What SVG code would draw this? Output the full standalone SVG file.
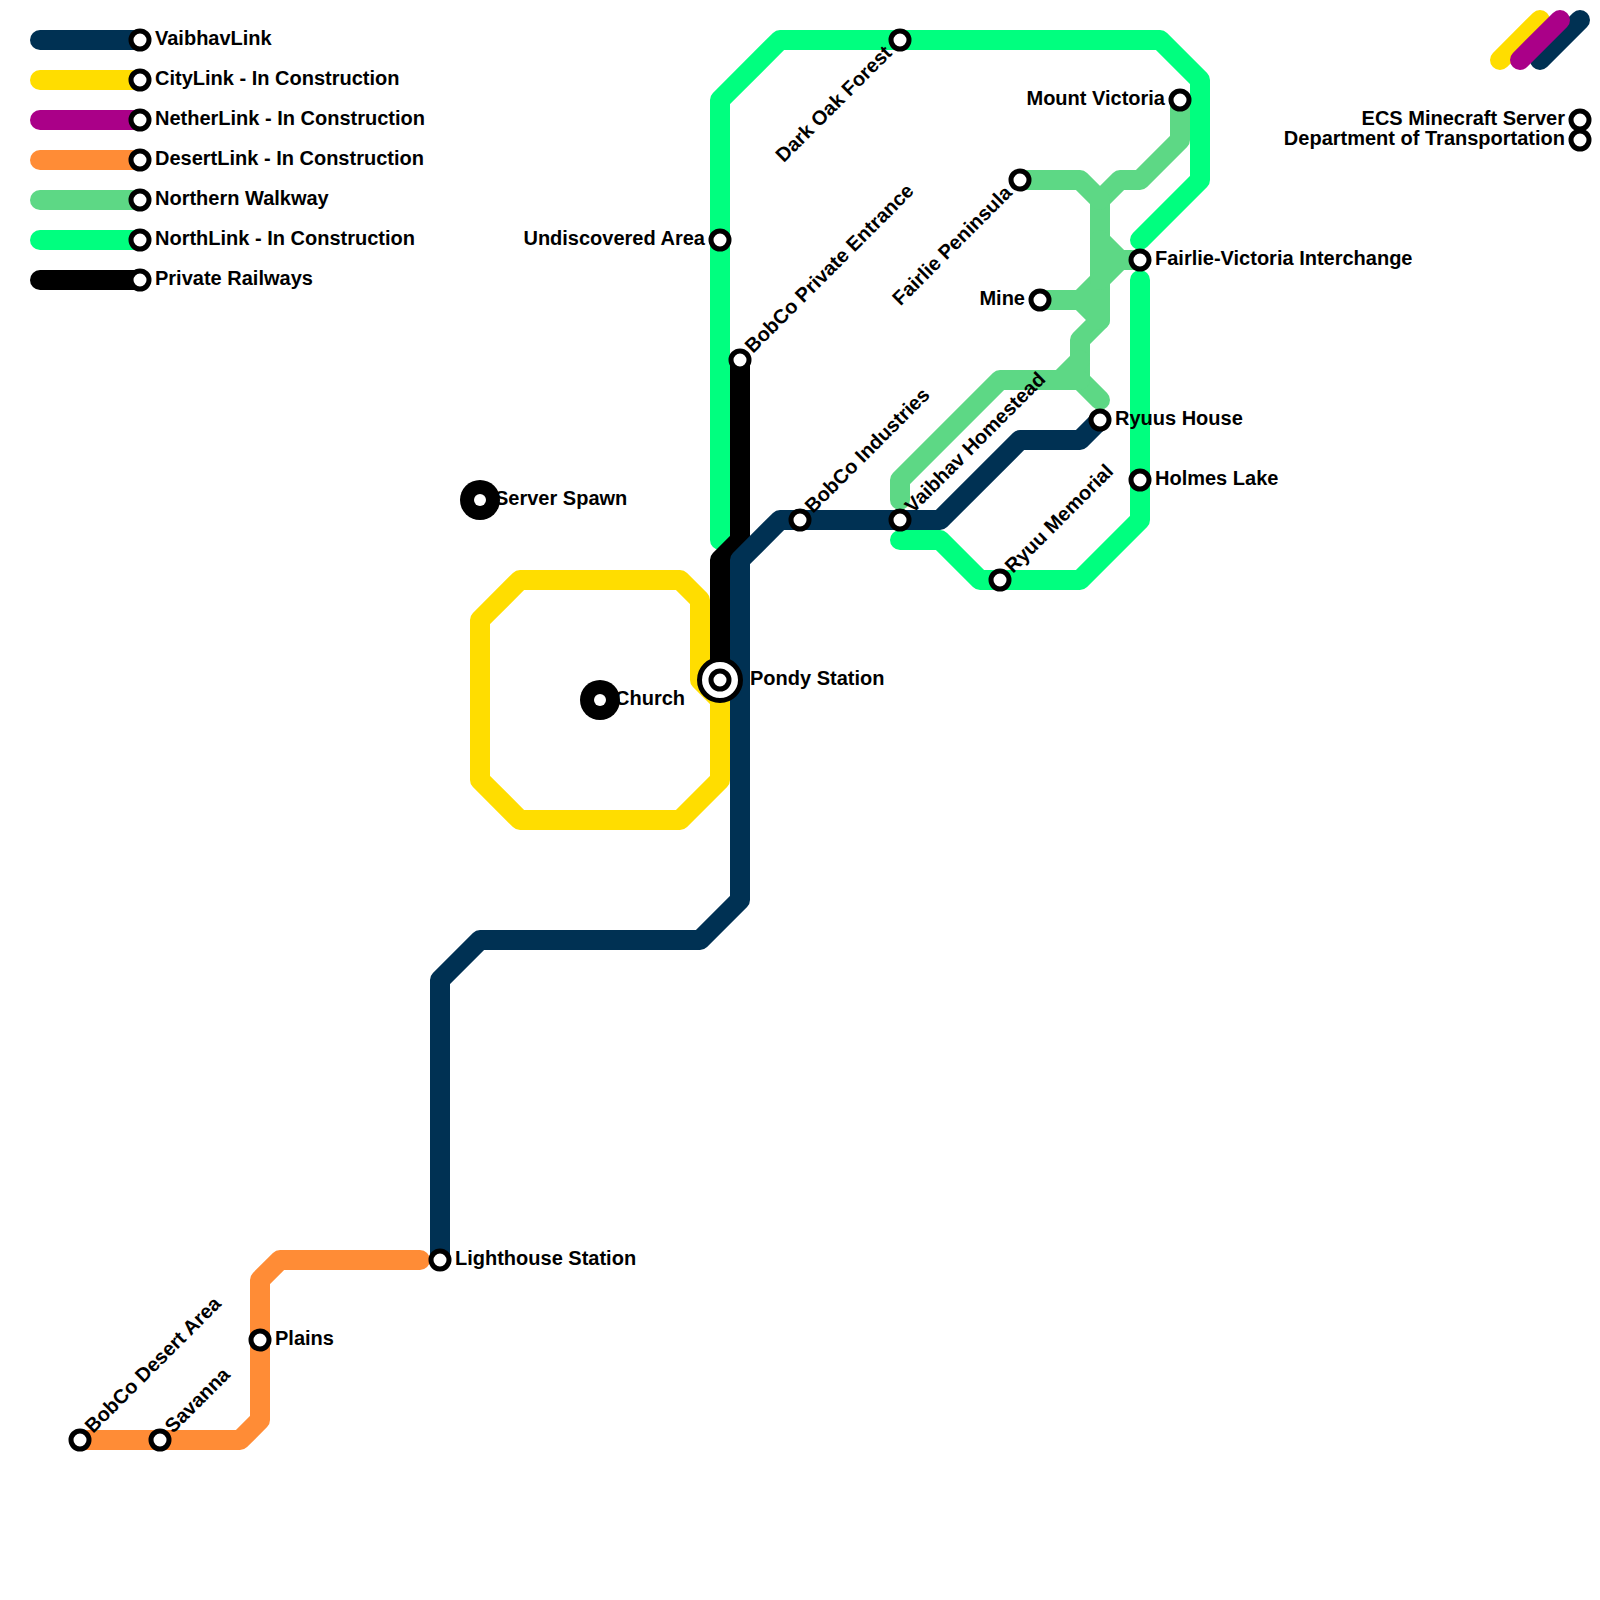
<svg xmlns="http://www.w3.org/2000/svg" width="1600" height="1600" viewBox="0 0 1600 1600">
<style>
.l{fill:none;stroke-width:20;stroke-linecap:round;stroke-linejoin:round}
.navy{stroke:#003153}.yel{stroke:#ffdd00}.mag{stroke:#aa0088}.ora{stroke:#ff8c36}.wal{stroke:#5dd885}.grn{stroke:#00ff7f}.blk{stroke:#000}
.s{fill:#fff;stroke:#000;stroke-width:5}
text{font-family:"Liberation Sans",Arial,sans-serif;font-weight:700;font-size:20px;fill:#000}
.e{text-anchor:end}
</style>
<rect width="1600" height="1600" fill="#fff"/>
<g id="connectors">
<path class="l grn" d="M40 240H140"/>
<path class="l grn" d="M720 540V100L780 40H1160L1200 80V180L1140 240"/>
<path class="l grn" d="M1140 280V520L1080 580H980L940 540H900"/>
<path class="l wal" d="M40 200H140"/>
<path class="l wal" d="M1180 100V140L1140 180H1120L1100 200V320L1080 340V380L1100 400"/>
<path class="l wal" d="M1020 180H1080L1100 200"/>
<path class="l wal" d="M1040 300H1080L1100 320M1080 300L1100 280"/>
<path class="l wal" d="M1140 260H1120L1100 240M1120 260L1100 280"/>
<path class="l wal" d="M900 500V480L1000 380H1080M1060 380L1080 360"/>
<path class="l yel" d="M40 80H140"/>
<path class="l yel" d="M700 680V600L680 580H520L480 620V780L520 820H680L720 780V700Z"/>
<path class="l mag" d="M40 120H140"/>
<path class="l ora" d="M40 160H140"/>
<path class="l ora" d="M80 1440H240L260 1420V1280L280 1260H420"/>
<path class="l blk" d="M40 280H140"/>
<path class="l blk" d="M740 360V540L720 560V680"/>
<path class="l navy" d="M40 40H140"/>
<path class="l navy" d="M1100 420L1080 440H1020L940 520H780L740 560V900L700 940H480L440 980V1260"/>
<path class="l yel" d="M1500 60L1540 20"/>
<path class="l navy" d="M1540 60L1580 20"/>
<path class="l mag" d="M1520 60L1560 20"/>
</g>
<g id="legend-vaibhavlink"><circle class="s" cx="140" cy="40" r="9"/><text x="155" y="45">VaibhavLink</text></g>
<g id="legend-citylink"><circle class="s" cx="140" cy="80" r="9"/><text x="155" y="85">CityLink - In Construction</text></g>
<g id="legend-netherlink"><circle class="s" cx="140" cy="120" r="9"/><text x="155" y="125">NetherLink - In Construction</text></g>
<g id="legend-desertlink"><circle class="s" cx="140" cy="160" r="9"/><text x="155" y="165">DesertLink - In Construction</text></g>
<g id="legend-walkway"><circle class="s" cx="140" cy="200" r="9"/><text x="155" y="205">Northern Walkway</text></g>
<g id="legend-northlink"><circle class="s" cx="140" cy="240" r="9"/><text x="155" y="245">NorthLink - In Construction</text></g>
<g id="legend-private"><circle class="s" cx="140" cy="280" r="9"/><text x="155" y="285">Private Railways</text></g>
<g id="ecs"><circle class="s" cx="1580" cy="120" r="9"/><text class="e" x="1565" y="125">ECS Minecraft Server</text></g>
<g id="dot"><circle class="s" cx="1580" cy="140" r="9"/><text class="e" x="1565" y="145">Department of Transportation</text></g>
<g id="dark-oak-forest"><circle class="s" cx="900" cy="40" r="9"/><text class="e" transform="translate(893 54) rotate(-45)">Dark Oak Forest</text></g>
<g id="mount-victoria"><circle class="s" cx="1180" cy="100" r="9"/><text class="e" x="1165" y="105">Mount Victoria</text></g>
<g id="fairlie-peninsula"><circle class="s" cx="1020" cy="180" r="9"/><text class="e" transform="translate(1013 194) rotate(-45)">Fairlie Peninsula</text></g>
<g id="undiscovered-area"><circle class="s" cx="720" cy="240" r="9"/><text class="e" x="705" y="245">Undiscovered Area</text></g>
<g id="fairlie-victoria"><circle class="s" cx="1140" cy="260" r="9"/><text x="1155" y="265">Fairlie-Victoria Interchange</text></g>
<g id="mine"><circle class="s" cx="1040" cy="300" r="9"/><text class="e" x="1025" y="305">Mine</text></g>
<g id="bobco-private"><circle class="s" cx="740" cy="360" r="9"/><text transform="translate(753 354) rotate(-45)">BobCo Private Entrance</text></g>
<g id="ryuus-house"><circle class="s" cx="1100" cy="420" r="9"/><text x="1115" y="425">Ryuus House</text></g>
<g id="holmes-lake"><circle class="s" cx="1140" cy="480" r="9"/><text x="1155" y="485">Holmes Lake</text></g>
<g id="bobco-industries"><circle class="s" cx="800" cy="520" r="9"/><text transform="translate(813 514) rotate(-45)">BobCo Industries</text></g>
<g id="vaibhav-homestead"><circle class="s" cx="900" cy="520" r="9"/><text transform="translate(913 514) rotate(-45)">Vaibhav Homestead</text></g>
<g id="ryuu-memorial"><circle class="s" cx="1000" cy="580" r="9"/><text transform="translate(1013 574) rotate(-45)">Ryuu Memorial</text></g>
<g id="server-spawn"><circle cx="480" cy="500" r="20" fill="#000"/><circle cx="480" cy="500" r="6" fill="#fff"/><text x="495" y="505">Server Spawn</text></g>
<g id="church"><circle cx="600" cy="700" r="20" fill="#000"/><circle cx="600" cy="700" r="6" fill="#fff"/><text x="615" y="705">Church</text></g>
<g id="pondy-station"><circle class="s" cx="720" cy="680" r="20.5"/><circle class="s" cx="720" cy="680" r="9"/><text x="750" y="685">Pondy Station</text></g>
<g id="lighthouse-station"><circle class="s" cx="440" cy="1260" r="9"/><text x="455" y="1265">Lighthouse Station</text></g>
<g id="plains"><circle class="s" cx="260" cy="1340" r="9"/><text x="275" y="1345">Plains</text></g>
<g id="bobco-desert"><circle class="s" cx="80" cy="1440" r="9"/><text transform="translate(93 1434) rotate(-45)">BobCo Desert Area</text></g>
<g id="savanna"><circle class="s" cx="160" cy="1440" r="9"/><text transform="translate(173 1434) rotate(-45)">Savanna</text></g>
</svg>
